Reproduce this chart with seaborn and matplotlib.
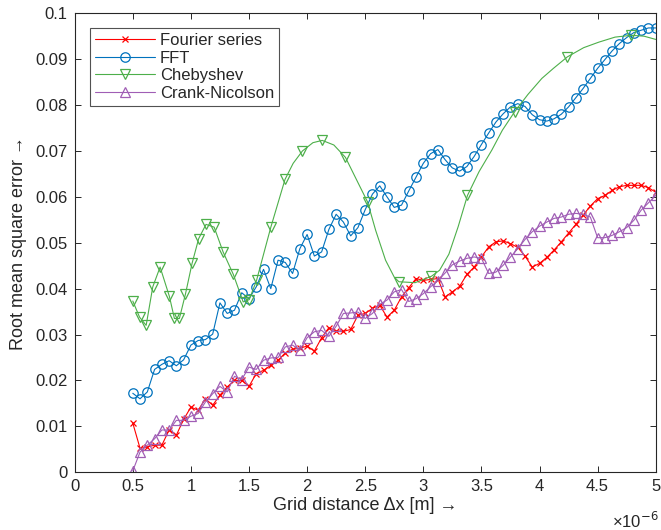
import numpy as np
import pandas as pd
import matplotlib
matplotlib.use("Agg")
import matplotlib.pyplot as plt
import seaborn as sns

# === DATA ===
# grid distance in units of 1e-6 m (73 grid sizes from 0.5 to 5)
grid_dx = np.linspace(0.5, 5.0, 73)

fourier = [0.0107, 0.0052, 0.0055, 0.0059, 0.0059, 0.0092, 0.0081, 0.0115, 0.0142, 0.0135,
           0.0160, 0.0146, 0.0168, 0.0186, 0.0200, 0.0200, 0.0187, 0.0215, 0.0222, 0.0233,
           0.0244, 0.0260, 0.0268, 0.0270, 0.0275, 0.0264, 0.0293, 0.0315, 0.0308, 0.0307,
           0.0311, 0.0342, 0.0346, 0.0357, 0.0364, 0.0338, 0.0353, 0.0382, 0.0402, 0.0422,
           0.0418, 0.0420, 0.0422, 0.0382, 0.0393, 0.0405, 0.0431, 0.0447, 0.0469, 0.0491,
           0.0502, 0.0504, 0.0498, 0.0490, 0.0471, 0.0447, 0.0455, 0.0468, 0.0484, 0.0502,
           0.0521, 0.0540, 0.0560, 0.0580, 0.0596, 0.0603, 0.0614, 0.0622, 0.0625, 0.0625,
           0.0625, 0.0620, 0.0610]

fft = [0.0172, 0.0160, 0.0175, 0.0224, 0.0235, 0.0243, 0.0232, 0.0245, 0.0277, 0.0287,
       0.0289, 0.0301, 0.0369, 0.0346, 0.0353, 0.0391, 0.0378, 0.0404, 0.0442, 0.0400,
       0.0462, 0.0457, 0.0433, 0.0487, 0.0518, 0.0471, 0.0480, 0.0529, 0.0562, 0.0545,
       0.0515, 0.0533, 0.0572, 0.0606, 0.0624, 0.0600, 0.0577, 0.0582, 0.0613, 0.0643,
       0.0673, 0.0694, 0.0703, 0.0681, 0.0663, 0.0656, 0.0666, 0.0688, 0.0714, 0.0739,
       0.0763, 0.0781, 0.0796, 0.0803, 0.0797, 0.0779, 0.0768, 0.0765, 0.0770, 0.0780,
       0.0796, 0.0816, 0.0836, 0.0858, 0.0880, 0.0899, 0.0918, 0.0934, 0.0947, 0.0958,
       0.0963, 0.0968, 0.0968]

crank = [0.0003, 0.0044, 0.0059, 0.0073, 0.0092, 0.0092, 0.0113, 0.0113, 0.0122, 0.0128,
         0.0153, 0.0171, 0.0187, 0.0175, 0.0209, 0.0202, 0.0229, 0.0224, 0.0244, 0.0249,
         0.0250, 0.0273, 0.0277, 0.0266, 0.0293, 0.0306, 0.0309, 0.0296, 0.0318, 0.0346,
         0.0347, 0.0349, 0.0335, 0.0346, 0.0366, 0.0375, 0.0393, 0.0398, 0.0372, 0.0378,
         0.0389, 0.0404, 0.0417, 0.0434, 0.0452, 0.0460, 0.0466, 0.0469, 0.0466, 0.0433,
         0.0436, 0.0451, 0.0469, 0.0487, 0.0507, 0.0524, 0.0536, 0.0545, 0.0553, 0.0556,
         0.0562, 0.0564, 0.0562, 0.0556, 0.0511, 0.0511, 0.0516, 0.0524, 0.0533, 0.0549,
         0.0571, 0.0587, 0.0603]

# Chebyshev: marker nodes and extra points
cheb_x = [0.50, 0.558, 0.615, 0.672, 0.735, 0.815, 0.858, 0.901, 0.953, 1.01,
          1.067, 1.13, 1.20, 1.277, 1.365, 1.45, 1.502, 1.565, 1.688, 1.81,
          1.96, 2.13, 2.33, 2.52, 2.79, 3.07, 3.38, 3.785, 4.24, 4.79]
cheb_y = [0.0373, 0.0338, 0.0320, 0.0404, 0.0447, 0.0383, 0.0335, 0.0335, 0.0388, 0.0455,
          0.0509, 0.0540, 0.0534, 0.0480, 0.0431, 0.0371, 0.0376, 0.0418, 0.0534, 0.0638,
          0.0700, 0.0723, 0.0686, 0.0589, 0.0415, 0.0427, 0.0603, 0.0785, 0.0905, 0.0952]
cheb_curve_x = [1.88, 2.05, 2.23, 2.42, 2.59, 2.675, 2.75, 2.93, 3.14, 3.22, 3.30,
                3.48, 3.59, 3.68, 3.90, 4.02, 4.12, 4.38, 4.51, 4.65, 4.90, 5.0]
cheb_curve_y = [0.0673, 0.0718, 0.0713, 0.0640, 0.0527, 0.0462, 0.0425, 0.0413, 0.0440, 0.0475, 0.0535,
                0.0655, 0.0702, 0.0745, 0.0823, 0.0858, 0.0880, 0.0925, 0.0937, 0.0948, 0.0950, 0.0943]

cheb = pd.DataFrame({
    'x': cheb_x + cheb_curve_x,
    'y': cheb_y + cheb_curve_y,
    'node': [True] * len(cheb_x) + [False] * len(cheb_curve_x),
}).sort_values('x').reset_index(drop=True)
cheb_nodes = list(cheb.index[cheb['node']])

# === PLOT ===
sns.set_style("ticks", {"xtick.direction": "in", "ytick.direction": "in"})
plt.rcParams['font.family'] = ['Liberation Sans', 'DejaVu Sans']
plt.rcParams['mathtext.fontset'] = 'custom'
plt.rcParams['mathtext.rm'] = 'Liberation Sans'

fig = plt.figure(figsize=(6.61, 5.30), dpi=100)
ax = fig.add_axes([0.113, 0.109, 0.879, 0.866])

common = dict(ax=ax, linewidth=0.8, markerfacecolor='none', markeredgewidth=0.9)

sns.lineplot(x=grid_dx, y=fourier, color='#FF0000', marker='x', markersize=4.5,
             markeredgecolor='#FF0000', label='Fourier series', **common)
sns.lineplot(x=grid_dx, y=fft, color='#0072BD', marker='o', markersize=6.8,
             markeredgecolor='#0072BD', label='FFT', **common)
sns.lineplot(data=cheb, x='x', y='y', color='#4DAF4A', marker='v', markersize=7,
             markeredgecolor='#4DAF4A', markevery=cheb_nodes, label='Chebyshev', **common)
sns.lineplot(x=grid_dx, y=crank, color='#A05EB5', marker='^', markersize=7,
             markeredgecolor='#A05EB5', label='Crank-Nicolson', **common)

ax.set_xlim(0, 5)
ax.set_ylim(0, 0.1)
ax.set_xticks(np.arange(0, 5.01, 0.5))
ax.set_xticklabels(['0', '0.5', '1', '1.5', '2', '2.5', '3', '3.5', '4', '4.5', '5'])
ax.set_yticks(np.arange(0, 0.101, 0.01))
ax.set_yticklabels(['0', '0.01', '0.02', '0.03', '0.04', '0.05', '0.06', '0.07', '0.08', '0.09', '0.1'])
ax.tick_params(axis='both', which='both', direction='in', top=True, right=True,
               labelsize=12, length=4, width=0.7, colors='#262626', pad=5)
for s in ax.spines.values():
    s.set_visible(True)
    s.set_color('#262626')
    s.set_linewidth(0.8)

ax.set_xlabel('Grid distance Δx [m] →', fontsize=13, labelpad=2)
ax.set_ylabel('Root mean square error →', fontsize=13, labelpad=6)
ax.text(1.005, -0.085, r'$\times10^{\mathsf{-6}}$', transform=ax.transAxes,
        ha='right', va='top', fontsize=12, color='#262626')

leg = ax.legend(loc='upper left', fontsize=12, frameon=True, fancybox=False,
                edgecolor='#262626', handlelength=3.6, borderpad=0.3,
                labelspacing=0.15, handletextpad=0.3, borderaxespad=0.9)
leg.get_frame().set_linewidth(0.8)

plt.savefig('out.png', dpi=100)
